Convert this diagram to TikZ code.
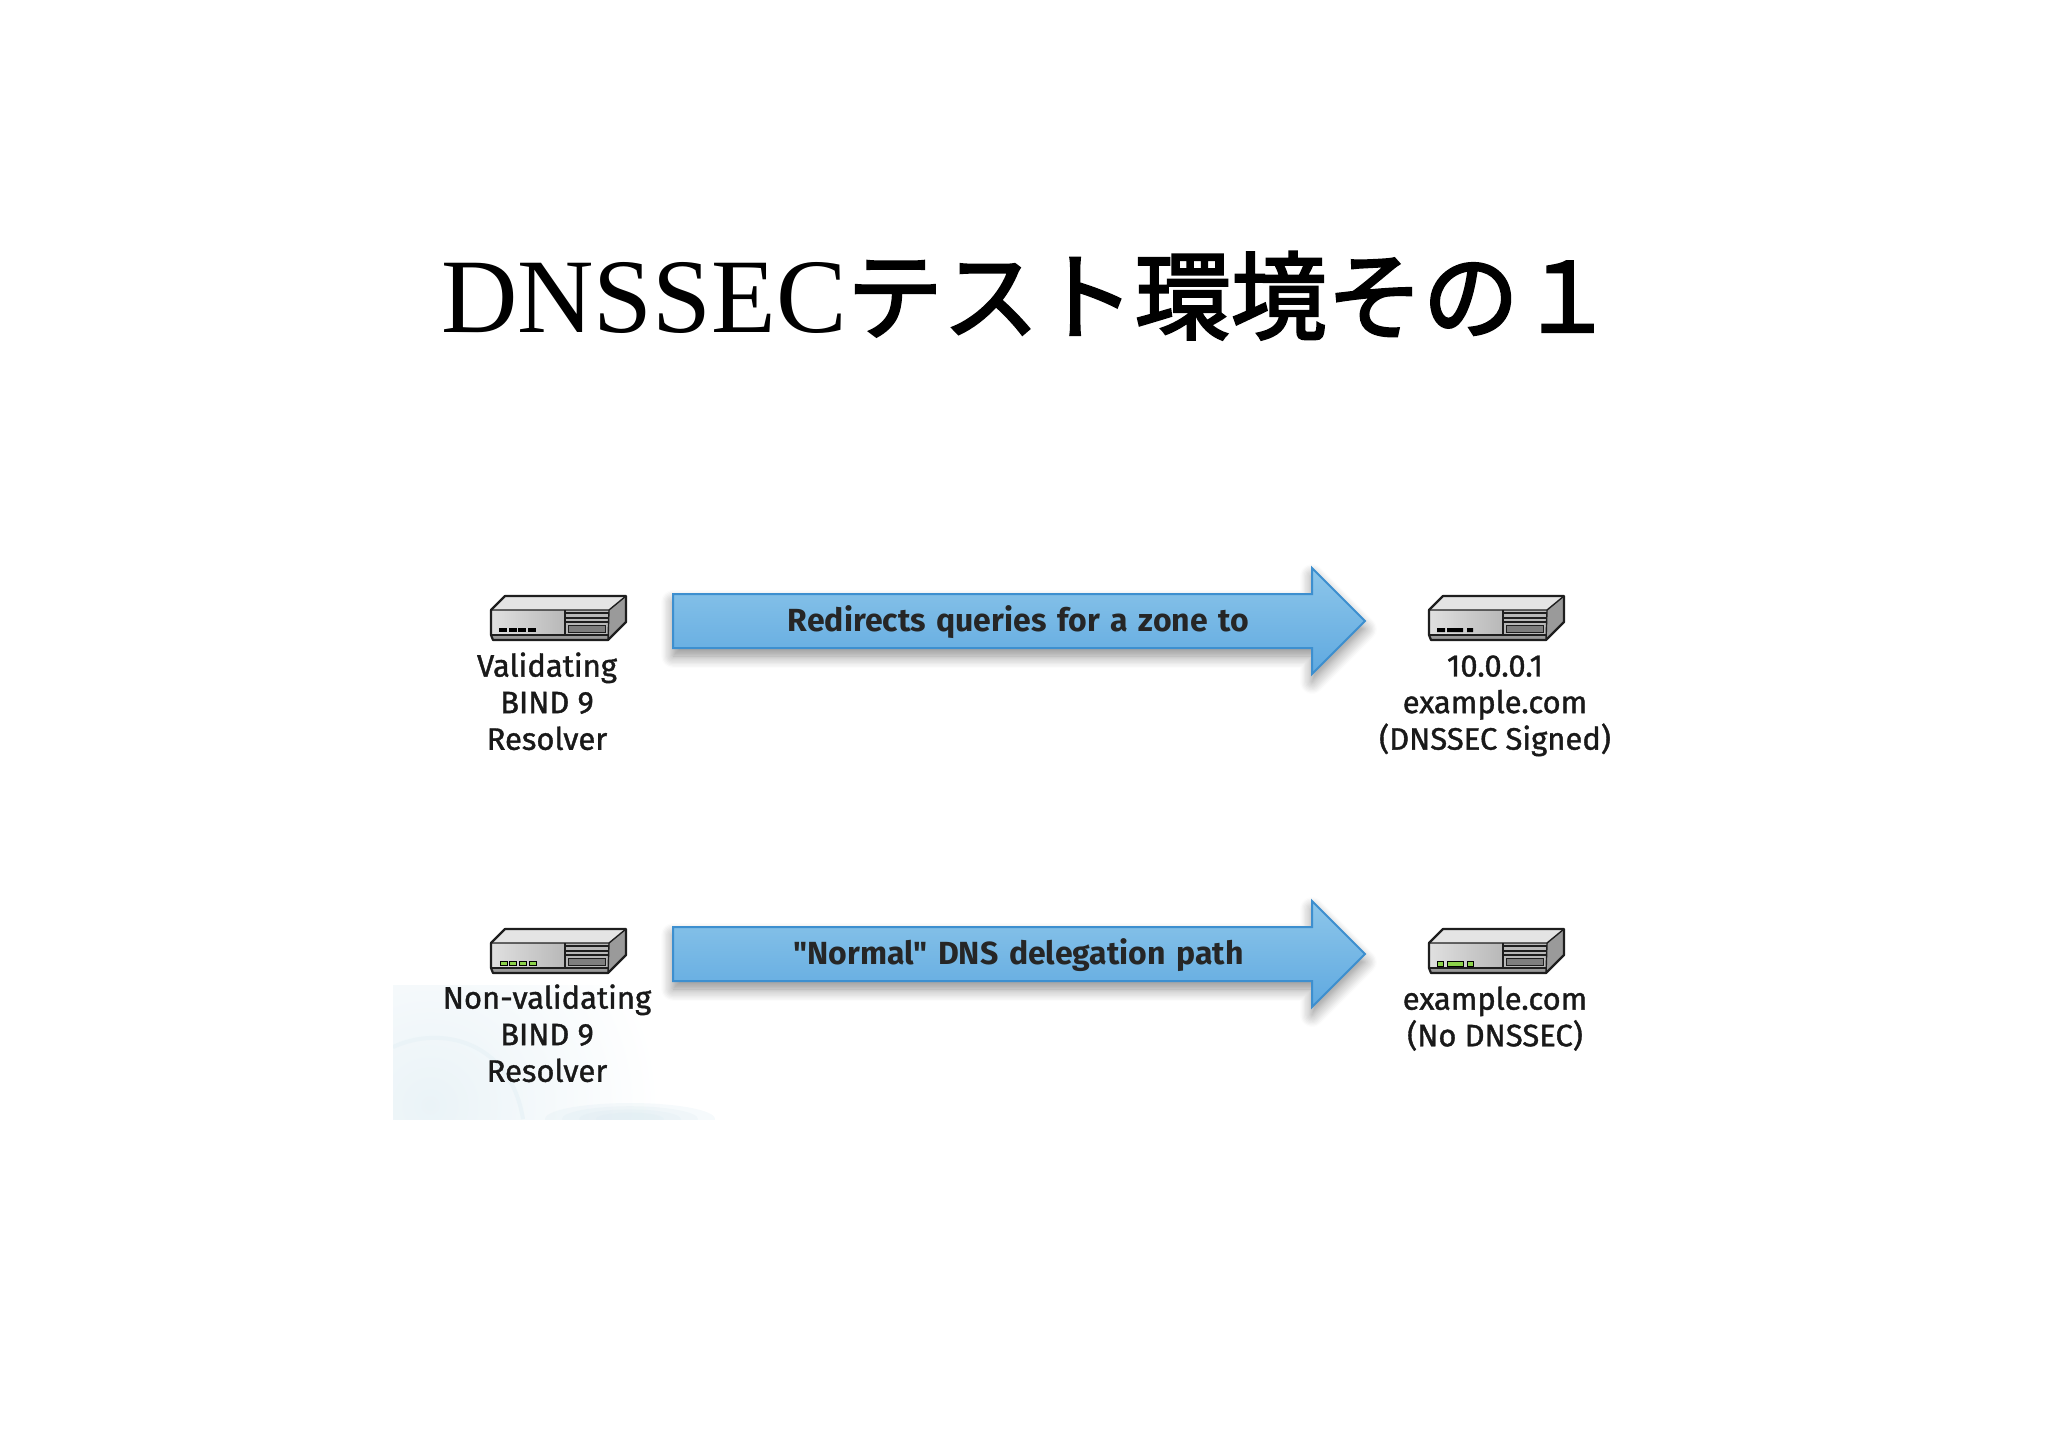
\documentclass[tikz,border=0pt]{standalone}
\usepackage{fontspec}
\setmainfont{Liberation Serif}
\newfontfamily\lblfont[FakeBold=1.2]{Fira Sans}
\newfontfamily\flowfont{Fira Sans}
\newfontfamily\cjkfont[FakeBold=2.5]{Noto Sans CJK JP}
\usetikzlibrary{positioning, shapes.arrows, shadows.blur}

\begin{document}
\begin{tikzpicture}[x=0.5pt, y=-0.5pt,
		lbl/.style={font=\lblfont\fontsize{15.5}{18.3}\selectfont, align=center, inner sep=0pt, text=black!90},
		flow/.style={single arrow, draw=arrowedge, line width=1pt, top color=arrowtop, bottom color=arrowbot,
			shape border rotate=0, single arrow head extend=13pt, single arrow tip angle=90,
			minimum height=346pt, minimum width=52pt, inner xsep=0pt, inner ysep=0pt,
			text height=18pt, text depth=8pt, text width=288pt, align=center,
			font=\flowfont\bfseries\fontsize{16}{18}\selectfont, text=black!85,
			execute at begin node={\hspace*{13pt}},
			blur shadow={shadow xshift=0pt, shadow yshift=-4pt, shadow blur radius=6pt, shadow blur steps=10, shadow opacity=45}},
		server/.pic={
			\fill[srvtop] (14,0) -- (135,0) -- (118,14) -- (0,14) -- cycle;
			\fill[srvside] (135,0) -- (135,26) -- (117,44) -- (118,14) -- cycle;
			\shade[left color=srvfrontl, right color=srvfrontr] (0,14) rectangle (74,39);
			\fill[srvfrontr] (74,14) rectangle (118,39);
			\fill[srvside] (2,39) rectangle (117,44);
			\draw[line width=1.1pt, srvline, line join=round] (14,0) -- (135,0) -- (135,26) -- (117,44) -- (2,44) -- (0,39) -- (0,14) -- cycle;
			\draw[line width=0.7pt, srvline] (0,14) -- (118,14) -- (135,0);
			\draw[line width=0.7pt, srvline] (118,14) -- (117,44);
			\draw[line width=0.7pt, srvline] (74,14) -- (74,39) (0,39) -- (117,39);
			\foreach \yy in {17,22,26} \draw[line width=0.8pt, srvline] (74,\yy) -- (118,\yy);
			\draw[srvline, fill=srvslot, line width=0.5pt] (77,29) rectangle (114,36);
		},
		led/.style={fill=#1, draw=black, line width=0.4pt}]
	\definecolor{arrowedge}{HTML}{3D8FCF}
	\definecolor{arrowtop}{HTML}{8DC6EA}
	\definecolor{arrowbot}{HTML}{5FA9E0}
	\definecolor{srvtop}{HTML}{E4E4E4}
	\definecolor{srvside}{HTML}{9A9A9A}
	\definecolor{srvfrontl}{HTML}{E0E0E0}
	\definecolor{srvfrontr}{HTML}{B8B8B8}
	\definecolor{srvline}{HTML}{1E1E1E}
	\definecolor{srvslot}{HTML}{7E7E7E}
	\definecolor{ledgreen}{HTML}{8CD24A}
	\definecolor{cloud}{HTML}{DCEBF2}
	\useasboundingbox (0,0) rectangle (2048,1448);

	% faint backdrop
	\begin{scope}
		\clip (393,985) rectangle (972,1119);
		\shade[inner color=cloud!60, outer color=white] (430,1105) circle (230);
		\draw[cloud!60, line width=2pt] (393,1047) .. controls (440,1025) and (510,1040) .. (523,1119);
		\foreach \rr in {1,0.8,0.6,0.4} \fill[cloud, opacity=0.25] (630,1119) ellipse ({85*\rr} and {16*\rr});
	\end{scope}

	\node[inner sep=0pt, anchor=base] (title) at (1028,332) {\fontsize{52.9}{60}\selectfont DNSSEC{\cjkfont\fontsize{48}{60}\selectfont テスト環境その１}};

	\pic at (491,596) {server};
	\pic at (1429,596) {server};
	\pic at (491,929) {server};
	\pic at (1429,929) {server};

	% status lights
	\foreach \xx in {499,508.5,518,528} \fill[black] (\xx,628) rectangle ++(8,4);
	\fill[black] (1437,628) rectangle (1445,632) (1447,628) rectangle (1463,632) (1467,628) rectangle (1473,632);
	\foreach \xx in {500,509,519,529} \draw[led=ledgreen] (\xx,961) rectangle ++(7,4);
	\draw[led=ledgreen] (1437,961) rectangle (1443,966) (1447,961) rectangle (1463,966) (1467,961) rectangle (1473,966);

	\node[lbl, anchor=north] (resolver_a) at (547,652) {Validating\\BIND 9\\Resolver};
	\node[lbl, anchor=north] (auth_a) at (1495,655) {10.0.0.1\\example.com\\(DNSSEC Signed)};
	\node[lbl, anchor=north] (resolver_b) at (547,984) {Non-validating\\BIND 9\\Resolver};
	\node[lbl, anchor=north] (auth_b) at (1495,986) {example.com\\(No DNSSEC)};

	\node[flow, anchor=west] (redirect) at (672,621) {Redirects queries for a zone to};
	\node[flow, anchor=west] (normal) at (672,954) {"Normal" DNS delegation path};
\end{tikzpicture}
\end{document}
